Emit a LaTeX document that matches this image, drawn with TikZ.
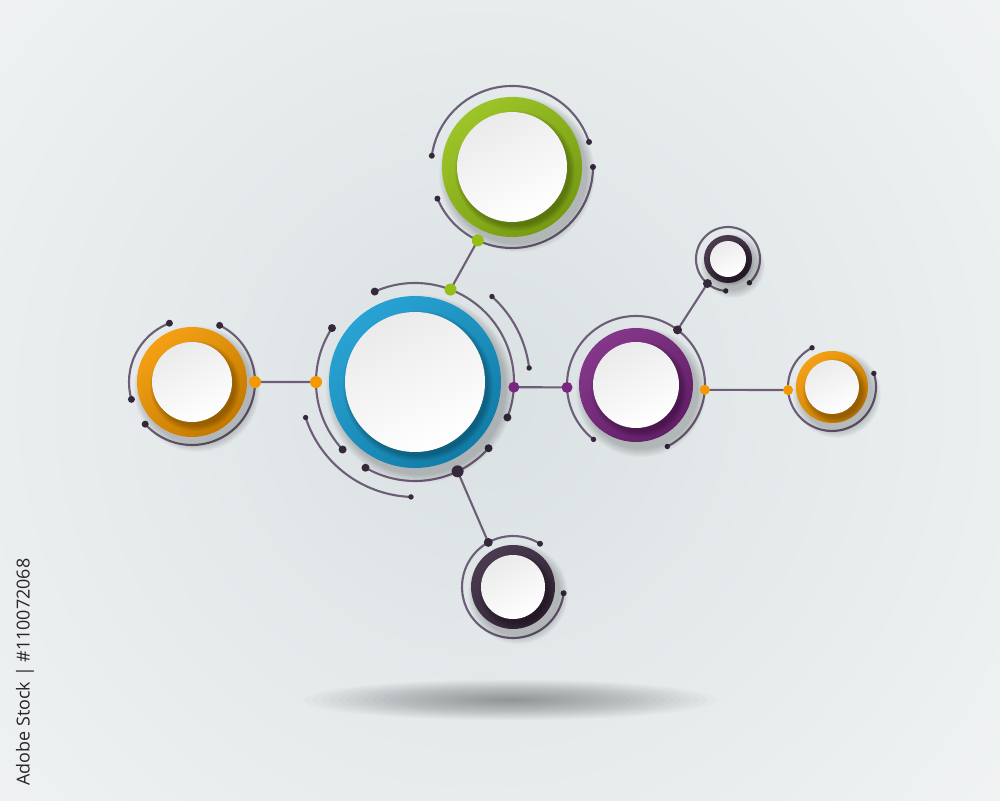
\documentclass[tikz,border=0pt]{standalone}
\usepackage{fontspec}
\setsansfont{Open Sans}
\definecolor{wirec}{RGB}{108,94,118}
\definecolor{knot}{RGB}{52,40,58}
\definecolor{cblue}{RGB}{22,155,208}
\definecolor{cgreen}{RGB}{148,192,22}
\definecolor{cpurple}{RGB}{122,38,128}
\definecolor{corange}{RGB}{243,152,0}
\definecolor{cdark}{RGB}{60,42,64}
\definecolor{bgmid}{RGB}{218,225,227}
\definecolor{bgout}{RGB}{252,252,252}
\tikzset{
  wire/.style={draw=wirec,line width=1.2pt},
  disc/.style={top color=black!8,bottom color=white,shading angle=25},
}
\newcommand\wirearc[6]{%
  \draw[wire] (#1) ++(#3:#2) arc[start angle=#3,end angle=#4,radius=#2];
  \fill[knot] (#1) ++(#3:#2) circle[radius=#5];
  \fill[knot] (#1) ++(#4:#2) circle[radius=#6];}
\newcommand\ring[4]{%
  \foreach \k in {0,...,8} \fill[black,opacity=.025] (#1) ++(5,-7) circle[radius=#2+\k];
  \shade[top color=#4!92!white,bottom color=#4!80!black,shading angle=40] (#1) circle[radius=#2];
  \foreach \k in {0,...,5} \fill[black,opacity=.045] (#1) ++(3,-4) circle[radius=#3+\k];
  \shade[disc] (#1) circle[radius=#3];}
\begin{document}
\begin{tikzpicture}[x=0.2mm,y=0.2mm]
\useasboundingbox (0,0) rectangle (1000,800);
\begin{scope}
\clip (0,0) rectangle (1000,800);
\shade[inner color=bgmid,outer color=bgout] (480,400) circle[radius=1000];
\end{scope}
\foreach \k in {1,...,24} \fill[black,opacity=.014] (510,100) ellipse[x radius=8.6*\k,y radius=.85*\k];
\node[rotate=90,text=black!85,font=\sffamily\fontsize{10.2}{12}\selectfont] (credit) at (25,128) {Adobe Stock | \#110072068};
\coordinate (B) at (415,418);
\coordinate (G) at (512,633);
\coordinate (P) at (636,415);
\coordinate (S) at (728,541);
\coordinate (R) at (832,413);
\coordinate (L) at (192,418);
\coordinate (D) at (513,213);
\path (B) ++(69:99) coordinate (Bg) (B) ++(180:99) coordinate (Bl)
      (B) ++(-3:99) coordinate (Bp) (B) ++(295.5:99) coordinate (Bd)
      (G) ++(245:81) coordinate (Gb) (L) ++(0:63) coordinate (Lb)
      (P) ++(182:69) coordinate (Pb) (P) ++(53:69) coordinate (Ps)
      (P) ++(-4:69) coordinate (Pr) (S) ++(230:32) coordinate (Sp)
      (R) ++(184:44) coordinate (Rp) (D) ++(119:51) coordinate (Db);
\wirearc{B}{99}{147}{223}{4}{4}
\wirearc{B}{99}{114}{-21}{4}{4}
\wirearc{B}{99}{240}{318}{4}{4}
\wirearc{B}{115}{48}{7}{2.7}{2.7}
\wirearc{B}{115}{198}{268}{2.7}{2.7}
\wirearc{G}{81}{18}{172}{3}{3}
\wirearc{G}{81}{203}{360}{3}{3}
\wirearc{P}{69}{-63}{232}{2.7}{2.7}
\wirearc{S}{32}{-48}{266}{2.7}{2.7}
\wirearc{R}{44}{117}{378}{2.7}{2.7}
\wirearc{L}{63}{111}{196}{3.5}{3.5}
\wirearc{L}{63}{64}{-138}{3.5}{3.5}
\wirearc{D}{51}{58}{353}{3}{3}
\draw[wire] (Bg)--(Gb) (Bl)--(Lb) (Bp)--(Pb) (Bd)--(Db) (Ps)--(Sp) (Pr)--(Rp);
\ring{B}{86}{70}{cblue}
\ring{G}{70}{55}{cgreen}
\ring{P}{57}{43}{cpurple}
\ring{S}{24}{18}{cdark}
\ring{R}{36}{27}{corange}
\ring{L}{55}{40}{corange}
\ring{D}{42}{32}{cdark}
\foreach \c/\r/\col in {Bg/6/cgreen,Gb/6/cgreen,Bl/6/corange,Lb/6/corange,Bp/5.5/cpurple,Pb/5.5/cpurple,Pr/5/corange,Rp/5/corange,Bd/6/knot,Db/4.5/knot,Ps/4.5/knot,Sp/4.5/knot}
  \fill[\col] (\c) circle[radius=\r];
\end{tikzpicture}
\end{document}
